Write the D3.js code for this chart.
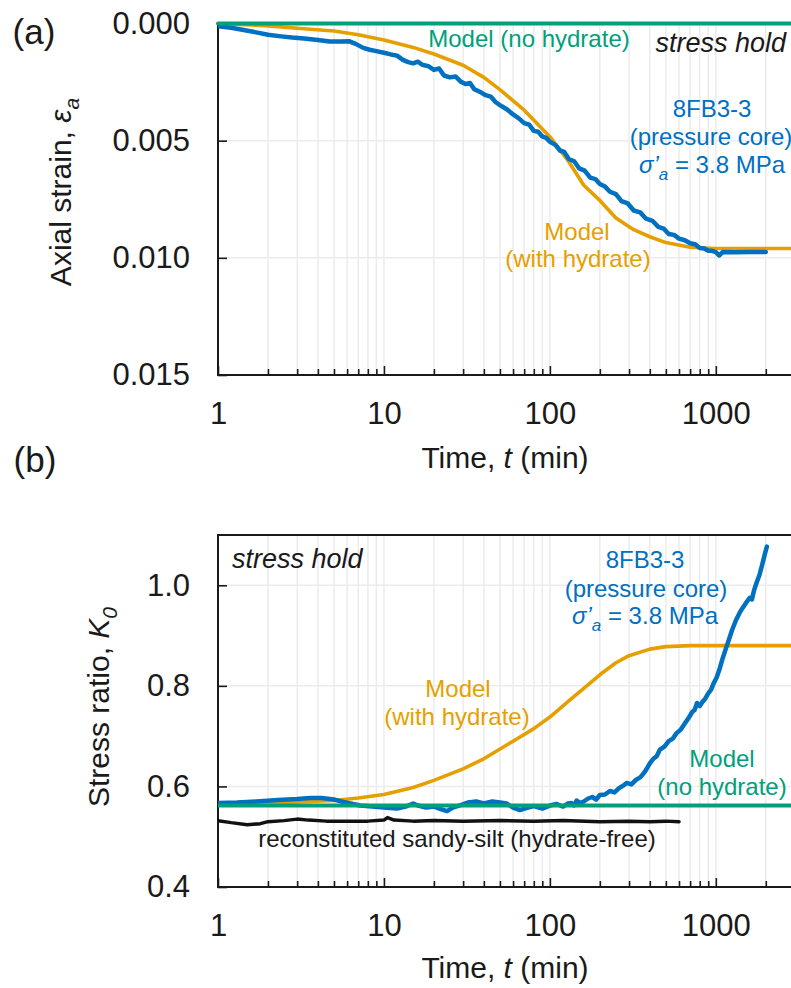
<!DOCTYPE html>
<html>
<head>
<meta charset="utf-8">
<script src="https://cdn.jsdelivr.net/npm/d3@7"></script>
<style>
  body { margin: 0; background: #fff; }
  text { font-family: "Liberation Sans", Arial, sans-serif; }
</style>
</head>
<body>
<div id="chart"></div>
<script>
const width = 791
const height = 988

// ---- data: [time (min), value] ----
const timeTicks = [1, 10, 100, 1000]
const strainTicks = [0, 0.005, 0.010, 0.015]
const ratioTicks = [0.4, 0.6, 0.8, 1.0]

// (a) axial strain
const strainNoHydrate = [[1, 0], [3000, 0]]
const strainWithHydrate = [
  [1, 0], [2, 0.0001], [3, 0.0002], [5, 0.00032], [7, 0.00048], [10, 0.0007], [15, 0.00102],
  [20, 0.0013], [30, 0.00178], [40, 0.0023], [50, 0.00282], [70, 0.0037], [100, 0.00483],
  [130, 0.0059], [160, 0.0069], [200, 0.00755], [250, 0.0083], [320, 0.0088], [400, 0.0091],
  [500, 0.00935], [700, 0.00955], [1000, 0.0096], [3000, 0.0096]
]
const strainCore = [
  [1, 0.00012], [1.2, 0.00018], [1.4, 0.00027], [1.7, 0.00038], [2, 0.00048], [2.4, 0.00055],
  [2.8, 0.0006], [3.3, 0.00064], [4, 0.0007], [4.7, 0.00077], [5.5, 0.00077], [6.2, 0.00076],
  [6.8, 0.00088], [7.5, 0.00104], [8.2, 0.00112], [9, 0.00118], [10, 0.00125], [11, 0.00132],
  [12, 0.00137], [13, 0.00155], [14, 0.00165], [15, 0.0017], [16, 0.00163], [17, 0.00176],
  [18.5, 0.00182], [20, 0.00198], [21.5, 0.00192], [23, 0.00222], [25, 0.0023], [27, 0.00226],
  [29, 0.00248], [31, 0.00258], [33, 0.00254], [35, 0.0028], [38, 0.00292], [41, 0.00306],
  [44, 0.00312], [47, 0.00335], [50, 0.00348], [55, 0.00366], [60, 0.00388], [65, 0.00405],
  [70, 0.00425], [75, 0.00432], [80, 0.00458], [85, 0.00462], [90, 0.00482], [95, 0.00488],
  [100, 0.00505], [108, 0.00518], [115, 0.00542], [122, 0.00548], [130, 0.00578], [140, 0.00588],
  [150, 0.00618], [162, 0.00628], [175, 0.00658], [188, 0.00664], [200, 0.00685], [215, 0.00696],
  [230, 0.00718], [250, 0.00728], [270, 0.00758], [295, 0.00768], [320, 0.00798], [350, 0.00806],
  [380, 0.00833], [415, 0.00842], [450, 0.00868], [485, 0.00875], [520, 0.00898], [560, 0.00902],
  [600, 0.00918], [650, 0.00925], [700, 0.00938], [750, 0.00942], [800, 0.00958], [850, 0.0096],
  [900, 0.0097], [950, 0.0097], [1000, 0.00976], [1050, 0.0099], [1100, 0.00975], [1300, 0.00976],
  [1600, 0.00975], [2000, 0.00975]
]

// (b) stress ratio K0
const ratioNoHydrate = [[1, 0.562], [3000, 0.562]]
const ratioWithHydrate = [
  [1, 0.565], [2, 0.567], [3, 0.569], [5, 0.572], [7, 0.577], [10, 0.584], [15, 0.598],
  [20, 0.612], [30, 0.635], [40, 0.655], [60, 0.69], [80, 0.715], [100, 0.738], [130, 0.77],
  [160, 0.795], [200, 0.822], [250, 0.846], [300, 0.86], [400, 0.873], [500, 0.878],
  [700, 0.88], [1000, 0.88], [3000, 0.88]
]
const ratioCore = [
  [1, 0.567], [1.3, 0.568], [1.7, 0.57], [2.3, 0.573], [3, 0.575], [3.6, 0.577], [4.2, 0.577],
  [5, 0.574], [5.7, 0.569], [6.5, 0.565], [7.2, 0.562], [8.5, 0.56], [10, 0.558], [12, 0.556],
  [13.5, 0.56], [15, 0.566], [16, 0.562], [18, 0.558], [20, 0.56], [22, 0.555], [24, 0.551],
  [26, 0.558], [29, 0.563], [32, 0.568], [36, 0.57], [40, 0.566], [45, 0.57], [50, 0.568],
  [55, 0.566], [60, 0.558], [66, 0.553], [72, 0.557], [80, 0.561], [90, 0.556], [100, 0.562],
  [110, 0.565], [120, 0.56], [128, 0.566], [135, 0.567], [140, 0.562], [145, 0.572], [152, 0.567],
  [160, 0.57], [170, 0.576], [180, 0.579], [190, 0.574], [200, 0.583], [215, 0.584], [230, 0.591],
  [245, 0.588], [260, 0.596], [275, 0.601], [290, 0.607], [310, 0.604], [330, 0.613], [350, 0.618],
  [365, 0.625], [380, 0.633], [400, 0.646], [420, 0.655], [440, 0.66], [460, 0.673], [490, 0.679],
  [520, 0.69], [550, 0.695], [580, 0.706], [615, 0.713], [650, 0.725], [685, 0.736], [720, 0.748],
  [745, 0.752], [770, 0.766], [800, 0.76], [830, 0.768], [865, 0.775], [900, 0.785], [935, 0.792],
  [970, 0.805], [1010, 0.816], [1050, 0.832], [1100, 0.855], [1160, 0.878], [1200, 0.892],
  [1250, 0.91], [1320, 0.93], [1390, 0.945], [1450, 0.955], [1520, 0.965], [1600, 0.975],
  [1650, 0.972], [1700, 0.99], [1760, 1.005], [1830, 1.02], [1900, 1.04], [1960, 1.058], [2030, 1.077]
]
const ratioReconstituted = [
  [1, 0.532], [1.2, 0.528], [1.5, 0.524], [1.8, 0.526], [2, 0.53], [2.5, 0.532], [3, 0.535],
  [3.5, 0.533], [4.5, 0.531], [6, 0.531], [8, 0.531], [10, 0.533], [10.5, 0.538], [11.5, 0.533],
  [15, 0.531], [20, 0.532], [30, 0.531], [50, 0.532], [80, 0.531], [120, 0.532], [200, 0.53],
  [300, 0.531], [400, 0.53], [500, 0.531], [600, 0.53]
]

const colors = {core: "#0070C0", withHydrate: "#E69F00", noHydrate: "#00A07A", recon: "#111"}

// ---- scales ----
const plotLeft = 218
const plotRight = 795
const x = d3.scaleLog().domain([1, 3000]).range([plotLeft, plotRight])
const yA = d3.scaleLinear().domain([0, 0.015]).range([23.5, 375])
const yB = d3.scaleLinear().domain([0.4, 1.1]).range([887, 535])

const minorTimes = []
timeTicks.forEach(d => { for (let m = 2; m <= 9; m++) if (m * d <= 3000) minorTimes.push(m * d) })

const svg = d3.select("div#chart").append("svg").attr("width", width).attr("height", height)

function drawPanel(y, yTicks, yFormat, id) {
  const top = d3.min(y.range()), bottom = d3.max(y.range())
  const g = svg.append("g").attr("id", id)

  g.append("clipPath").attr("id", id + "Clip")
    .append("rect").attr("x", plotLeft).attr("y", top).attr("width", plotRight - plotLeft).attr("height", bottom - top)

  // light grid
  const grid = g.append("g").attr("class", "grid")
  grid.selectAll("line.v").data(minorTimes.concat(timeTicks.slice(1))).enter().append("line")
    .attr("x1", d => x(d)).attr("x2", d => x(d)).attr("y1", top).attr("y2", bottom)
    .attr("stroke", "#ececec").attr("stroke-width", 1.5)
  grid.selectAll("line.h").data(yTicks.filter(d => y(d) > top + 1 && y(d) < bottom - 1)).enter().append("line")
    .attr("x1", plotLeft).attr("x2", plotRight).attr("y1", d => y(d)).attr("y2", d => y(d))
    .attr("stroke", "#ececec").attr("stroke-width", 1.5)

  // axes (inward ticks)
  const xAxisG = g.append("g").attr("transform", `translate(0, ${bottom})`)
    .call(d3.axisBottom(x).tickValues(timeTicks).tickSize(-9).tickPadding(27).tickFormat(d3.format("d")))
  const xMinorG = g.append("g").attr("transform", `translate(0, ${bottom})`)
    .call(d3.axisBottom(x).tickValues(minorTimes).tickSize(-6).tickFormat(""))
  const yAxisG = g.append("g").attr("transform", `translate(${plotLeft}, 0)`)
    .call(d3.axisLeft(y).tickValues(yTicks).tickSize(-9).tickPadding(28).tickFormat(yFormat))
  ;[xAxisG, xMinorG, yAxisG].forEach(a => {
    a.select(".domain").remove()
    a.selectAll("line").attr("stroke", "#1a1a1a").attr("stroke-width", 1.6)
    a.selectAll("text").attr("font-size", 31).attr("fill", "#1a1a1a")
      .style("font-family", "'Liberation Sans', Arial, sans-serif")
  })

  // frame
  g.append("rect").attr("x", plotLeft).attr("y", top).attr("width", plotRight + 10 - plotLeft).attr("height", bottom - top)
    .attr("fill", "none").attr("stroke", "#1a1a1a").attr("stroke-width", 2)

  return g.append("g").attr("clip-path", `url(#${id}Clip)`)
}

function addLine(group, data, y, color, w) {
  const line = d3.line().x(d => x(d[0])).y(d => y(d[1]))
  group.append("path").datum(data).attr("d", line)
    .attr("fill", "none").attr("stroke", color).attr("stroke-width", w)
    .attr("stroke-linejoin", "round").attr("stroke-linecap", "round")
}

// ---- panel (a) ----
const linesA = drawPanel(yA, strainTicks, d3.format(".3f"), "panelA")
addLine(linesA, strainWithHydrate, yA, colors.withHydrate, 3.6)
addLine(linesA, strainCore, yA, colors.core, 4.5)
addLine(svg.append("g"), strainNoHydrate, yA, colors.noHydrate, 4)

// ---- panel (b) ----
const linesB = drawPanel(yB, ratioTicks, d3.format(".1f"), "panelB")
addLine(linesB, ratioWithHydrate, yB, colors.withHydrate, 3.6)
addLine(linesB, ratioCore, yB, colors.core, 4.5)
addLine(linesB, ratioNoHydrate, yB, colors.noHydrate, 4)
addLine(linesB, ratioReconstituted, yB, colors.recon, 3.5)

// ---- text ----
function label(txt, xPos, yPos, opts = {}) {
  return svg.append("text").attr("x", xPos).attr("y", yPos)
    .attr("font-size", opts.size || 24).attr("fill", opts.color || "#1a1a1a")
    .attr("text-anchor", opts.anchor || "middle")
    .attr("font-style", opts.italic ? "italic" : "normal")
    .text(txt)
}
function sigmaLabel(xPos, yPos) {
  const t = svg.append("text").attr("x", xPos).attr("y", yPos).attr("font-size", 24)
    .attr("fill", colors.core).attr("text-anchor", "middle")
  t.append("tspan").attr("font-style", "italic").text("σ’")
  t.append("tspan").attr("font-style", "italic").attr("font-size", 17).attr("dy", 7).text("a")
  t.append("tspan").attr("dy", -7).text(" = 3.8 MPa")
}
function timeTitle(yPos) {
  const t = svg.append("text").attr("x", 505).attr("y", yPos).attr("font-size", 30)
    .attr("fill", "#1a1a1a").attr("text-anchor", "middle")
  t.append("tspan").text("Time, ")
  t.append("tspan").attr("font-style", "italic").text("t")
  t.append("tspan").text(" (min)")
}

label("(a)", 34, 44, {size: 35})
label("(b)", 35, 472, {size: 35})

// panel (a) annotations
label("Model (no hydrate)", 529, 47, {color: colors.noHydrate})
label("stress hold", 786, 52, {italic: true, size: 27, anchor: "end"})
label("8FB3-3", 712, 117, {color: colors.core})
label("(pressure core)", 711, 145, {color: colors.core})
sigmaLabel(712, 173)
label("Model", 577, 240, {color: colors.withHydrate})
label("(with hydrate)", 578, 267, {color: colors.withHydrate})
timeTitle(468)

const yTitleA = svg.append("text").attr("transform", "translate(71, 192) rotate(-90)")
  .attr("font-size", 30).attr("fill", "#1a1a1a").attr("text-anchor", "middle")
yTitleA.append("tspan").text("Axial strain, ")
yTitleA.append("tspan").attr("font-style", "italic").text("ε")
yTitleA.append("tspan").attr("font-style", "italic").attr("font-size", 21).attr("dy", 8).text("a")

// panel (b) annotations
label("stress hold", 232, 568, {italic: true, size: 27, anchor: "start"})
label("8FB3-3", 645, 568, {color: colors.core})
label("(pressure core)", 646, 597, {color: colors.core})
sigmaLabel(645, 624)
label("Model", 458, 697, {color: colors.withHydrate})
label("(with hydrate)", 457, 725, {color: colors.withHydrate})
label("Model", 722, 767, {color: colors.noHydrate})
label("(no hydrate)", 722, 795, {color: colors.noHydrate})
label("reconstituted sandy-silt (hydrate-free)", 457, 847)
timeTitle(978)

const yTitleB = svg.append("text").attr("transform", "translate(109, 707) rotate(-90)")
  .attr("font-size", 30).attr("fill", "#1a1a1a").attr("text-anchor", "middle")
yTitleB.append("tspan").text("Stress ratio, ")
yTitleB.append("tspan").attr("font-style", "italic").text("K")
yTitleB.append("tspan").attr("font-style", "italic").attr("font-size", 21).attr("dy", 8).text("0")
</script>
</body>
</html>
